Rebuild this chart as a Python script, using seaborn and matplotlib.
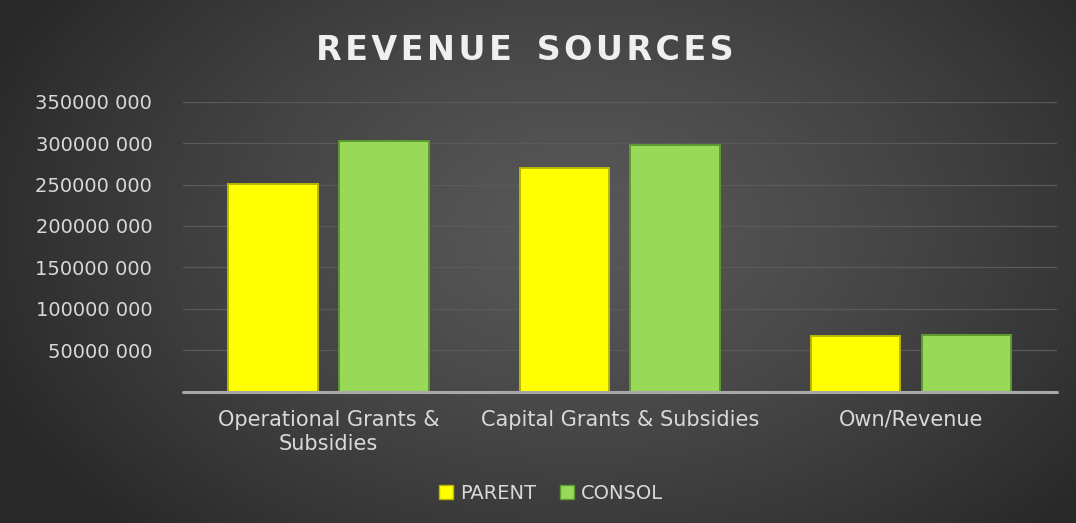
import numpy as np
import pandas as pd
import matplotlib
matplotlib.use("Agg")
import matplotlib.pyplot as plt
from matplotlib.ticker import FuncFormatter, MultipleLocator
import seaborn as sns

# Revenue figures by source
categories = ["Operational Grants &\nSubsidies", "Capital Grants & Subsidies", "Own/Revenue"]
parent = [251_000_000, 270_000_000, 67_000_000]
consol = [302_000_000, 297_500_000, 68_500_000]
series = ["PARENT", "CONSOL"]
colors = {"PARENT": "#FFFF00", "CONSOL": "#98D957"}
edges = {"PARENT": "#B8B800", "CONSOL": "#5E9A30"}

df = pd.DataFrame({
    "source": categories * 2,
    "value": parent + consol,
    "series": [series[0]] * 3 + [series[1]] * 3,
})

sns.set_theme(style="dark")
plt.rcParams["font.family"] = ["DejaVu Sans"]

fig = plt.figure(figsize=(10.76, 5.23), dpi=100)
fig.patch.set_facecolor("#3a3a3a")

# radial-gradient backdrop
bg = fig.add_axes([0, 0, 1, 1], zorder=-10)
h, w = 523, 1076
yy, xx = np.mgrid[0:h, 0:w]
r = np.sqrt(((xx - 580) / 650.0) ** 2 + ((yy - 230) / 430.0) ** 2)
inner, outer = 0x58, 0x28
shade = np.clip(inner - (inner - outer) * np.clip(r, 0, 1) ** 1.3, 0, 255) / 255.0
bg.imshow(np.dstack([shade, shade, shade]), aspect="auto", extent=[0, 1, 0, 1])
bg.set_axis_off()

ax = fig.add_axes([0.170, 0.2514, 0.812, 0.5541])
ax.set_facecolor("none")

sns.barplot(data=df, x="source", y="value", hue="series", palette=colors,
            saturation=1, width=0.76, gap=0.19, ax=ax, zorder=3, legend=True)

for container, name in zip(ax.containers, series):
    for bar in container:
        bar.set_edgecolor(edges[name])
        bar.set_linewidth(1.4)

ax.set_ylim(0, 350_000_000)
ax.set_xlim(-0.5, 2.5)
ax.yaxis.set_major_locator(MultipleLocator(50_000_000))


def fmt(v, _pos):
    v = int(round(v))
    if v == 0:
        return ""
    return f"{v // 1000} {v % 1000:03d}"


ax.yaxis.set_major_formatter(FuncFormatter(fmt))
ax.grid(axis="y", color="#5a5a5a", linewidth=0.9, zorder=0)
ax.grid(axis="x", visible=False)
for s in ax.spines.values():
    s.set_visible(False)
ax.axhline(0, color="#a8a8a8", linewidth=2.2, zorder=4, clip_on=False)

ax.tick_params(axis="y", length=0, pad=22, labelsize=14, labelcolor="#d9d9d9")
ax.tick_params(axis="x", length=0, pad=13, labelsize=15, labelcolor="#d9d9d9")
for t in ax.get_xticklabels():
    t.set_linespacing(1.25)
ax.set_xlabel("")
ax.set_ylabel("")

leg = ax.legend(loc="center", bbox_to_anchor=(0.512, 0.057), bbox_transform=fig.transFigure,
                ncol=2, frameon=False, fontsize=14, labelcolor="#d9d9d9",
                handlelength=0.75, handleheight=0.75, handletextpad=0.35, columnspacing=1.2)
for patch, name in zip(leg.get_patches(), series):
    patch.set_edgecolor(edges[name])

title = "\u200a".join("REVENUE") + "\u2009 \u2009" + "\u200a".join("SOURCES")
fig.text(0.488, 0.904, title, ha="center", va="center",
         fontsize=24, fontweight="bold", color="#efefef")

fig.savefig("out.png", dpi=100, facecolor=fig.get_facecolor())
